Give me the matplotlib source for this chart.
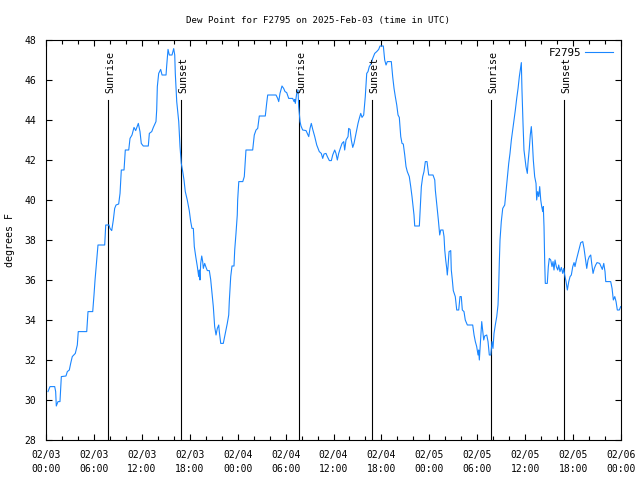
"""
Dew point for station F2795, 2025-Feb-03 .. 2025-Feb-06 (UTC), gnuplot-like look.
"""
import matplotlib
matplotlib.use("Agg")
import matplotlib.pyplot as plt
from matplotlib.ticker import MultipleLocator

# ── Data ──────────────────────────────────────────────────────────────────────
# hours since 2025-02-03 00:00 UTC
HOURS = [
    0.25, 0.50, 1.09, 1.21, 1.29, 1.50, 1.75, 1.92, 2.50, 2.67, 2.92, 3.09, 3.29,
    3.67, 3.92, 4.04, 5.10, 5.26, 5.85, 6.01, 6.14, 6.35, 6.51, 7.35, 7.48, 7.89,
    8.01, 8.23, 8.43, 8.60, 8.77, 9.10, 9.27, 9.43, 9.77, 9.93, 10.36, 10.52,
    10.77, 11.02, 11.23, 11.56, 11.77, 11.93, 12.18, 12.81, 12.94, 13.24, 13.44,
    13.77, 13.86, 13.94, 14.11, 14.36, 14.53, 15.03, 15.11, 15.28, 15.44, 15.78,
    15.99, 16.12, 16.19, 16.37, 16.62, 16.78, 16.94, 17.12, 17.28, 17.44, 17.69,
    17.94, 18.12, 18.28, 18.45, 18.57, 18.75, 18.95, 19.12, 19.20, 19.28, 19.37,
    19.50, 19.62, 19.70, 19.87, 20.04, 20.20, 20.45, 20.62, 20.79, 20.95, 21.12,
    21.29, 21.45, 21.63, 21.70, 21.88, 22.20, 22.45, 22.70, 22.88, 22.95, 23.13,
    23.29, 23.54, 23.63, 23.79, 23.95, 24.00, 24.14, 24.64, 24.83, 25.04, 25.88,
    26.08, 26.30, 26.51, 26.71, 27.46, 27.63, 27.76, 28.80, 29.01, 29.14, 29.30,
    29.55, 29.76, 29.93, 30.14, 30.39, 30.89, 31.06, 31.14, 31.22, 31.39, 31.56,
    31.64, 31.81, 31.93, 32.14, 32.56, 32.72, 32.90, 33.06, 33.22, 33.40, 33.65,
    33.90, 34.22, 34.47, 34.65, 34.81, 35.06, 35.23, 35.48, 35.73, 35.90, 36.15,
    36.31, 36.48, 36.65, 36.85, 37.07, 37.28, 37.40, 37.57, 37.82, 37.90, 38.07,
    38.23, 38.41, 38.57, 38.82, 39.07, 39.23, 39.41, 39.57, 39.78, 39.98, 40.16,
    40.32, 40.48, 40.73, 40.91, 41.16, 41.41, 41.66, 41.82, 42.24, 42.41, 42.58,
    42.74, 43.24, 43.41, 43.58, 43.74, 43.92, 44.08, 44.24, 44.42, 44.58, 44.74,
    44.92, 45.08, 45.24, 45.49, 45.67, 45.83, 45.96, 46.08, 46.17, 46.75, 46.87,
    47.00, 47.17, 47.33, 47.50, 47.71, 47.92, 48.46, 48.68, 48.75, 48.88, 49.00,
    49.13, 49.30, 49.43, 49.71, 49.84, 49.93, 50.05, 50.18, 50.25, 50.34, 50.47,
    50.68, 50.75, 50.88, 51.00, 51.25, 51.43, 51.68, 51.84, 52.00, 52.13, 52.34,
    52.50, 52.76, 53.43, 53.60, 53.76, 53.93, 54.10, 54.18, 54.26, 54.43, 54.56,
    54.68, 54.81, 54.93, 55.19, 55.35, 55.51, 55.69, 55.85, 55.97, 56.10, 56.26,
    56.44, 56.60, 56.69, 56.76, 56.85, 57.01, 57.19, 57.44, 57.60, 57.77, 57.94,
    58.10, 58.27, 58.44, 58.60, 58.77, 58.94, 59.11, 59.27, 59.44, 59.52, 59.60,
    59.73, 59.85, 59.98, 60.10, 60.27, 60.35, 60.52, 60.64, 60.77, 60.89, 61.02,
    61.19, 61.36, 61.44, 61.57, 61.70, 61.82, 61.95, 62.07, 62.20, 62.27, 62.36,
    62.45, 62.52, 62.77, 62.90, 63.02, 63.20, 63.36, 63.49, 63.61, 63.74, 63.90,
    64.08, 64.20, 64.36, 64.53, 64.70, 64.83, 64.95, 65.12, 65.28, 65.46, 65.62,
    65.78, 65.96, 66.12, 66.24, 66.41, 66.62, 66.78, 66.96, 67.21, 67.37, 67.54,
    67.71, 67.87, 68.03, 68.21, 68.33, 68.50, 68.66, 68.83, 69.00, 69.33, 69.50,
    69.66, 69.84, 70.00, 70.09, 70.71, 70.88, 71.04, 71.22, 71.38, 71.54, 71.79,
    71.96,
]
DEW_POINT_F = [
    30.42, 30.67, 30.67, 30.42, 29.70, 29.92, 29.92, 31.17, 31.20, 31.42, 31.50,
    31.83, 32.17, 32.33, 32.75, 33.42, 33.42, 34.42, 34.42, 35.25, 36.00, 37.00,
    37.75, 37.75, 38.75, 38.75, 38.58, 38.47, 39.00, 39.58, 39.75, 39.80, 40.33,
    41.50, 41.50, 42.50, 42.50, 43.08, 43.25, 43.63, 43.47, 43.83, 43.42, 42.83,
    42.70, 42.70, 43.33, 43.42, 43.63, 43.92, 44.50, 45.67, 46.33, 46.53, 46.25,
    46.25, 46.70, 47.53, 47.25, 47.25, 47.57, 47.25, 46.33, 44.92, 43.92, 42.67,
    41.83, 41.42, 41.00, 40.42, 40.00, 39.47, 38.92, 38.58, 38.58, 37.67, 37.17,
    36.67, 36.17, 36.50, 36.00, 36.83, 37.20, 36.92, 36.58, 36.83, 36.63, 36.47,
    36.47, 36.03, 35.33, 34.67, 33.67, 33.25, 33.58, 33.75, 33.42, 32.83, 32.83,
    33.33, 33.83, 34.25, 34.92, 36.17, 36.70, 36.70, 37.50, 38.33, 39.25, 40.00,
    40.92, 40.92, 41.17, 42.50, 42.50, 43.25, 43.50, 43.58, 44.20, 44.20, 44.83,
    45.25, 45.25, 45.08, 44.92, 45.33, 45.70, 45.58, 45.42, 45.37, 45.08, 45.08,
    44.92, 45.03, 44.83, 45.33, 45.50, 44.67, 43.92, 43.70, 43.50, 43.47, 43.33,
    43.17, 43.58, 43.83, 43.53, 43.17, 42.75, 42.42, 42.33, 42.08, 42.30, 42.33,
    42.17, 41.97, 41.97, 42.25, 42.50, 42.33, 42.00, 42.33, 42.58, 42.83, 42.92,
    42.50, 43.00, 43.17, 43.58, 43.53, 43.00, 42.63, 42.83, 43.33, 43.83, 44.08,
    44.33, 44.13, 44.25, 45.17, 46.33, 46.42, 46.67, 46.83, 47.08, 47.33, 47.42,
    47.53, 47.70, 47.70, 47.00, 46.75, 46.92, 46.92, 46.17, 45.58, 45.17, 44.75,
    44.25, 44.13, 43.17, 42.83, 42.80, 42.25, 41.67, 41.42, 41.17, 40.67, 40.17,
    39.67, 39.25, 38.70, 38.70, 39.67, 40.67, 41.17, 41.42, 41.92, 41.92, 41.25,
    41.25, 41.00, 40.50, 40.00, 39.50, 39.00, 38.25, 38.50, 38.50, 38.17, 37.50,
    37.00, 36.58, 36.25, 36.67, 37.42, 37.47, 36.50, 36.00, 35.47, 35.17, 34.50,
    34.50, 35.17, 35.17, 34.50, 34.42, 34.00, 33.75, 33.75, 33.25, 32.92, 32.67,
    32.25, 32.50, 32.00, 33.08, 33.92, 33.50, 33.00, 33.20, 33.25, 32.92, 32.25,
    32.25, 32.92, 32.58, 33.33, 33.75, 34.17, 34.75, 35.75, 36.83, 38.00, 38.92,
    39.58, 39.75, 40.42, 41.17, 41.83, 42.33, 43.00, 43.50, 44.00, 44.50, 45.08,
    45.58, 46.17, 46.67, 46.87, 45.50, 43.83, 42.50, 42.08, 41.67, 41.33, 41.83,
    42.58, 43.25, 43.67, 43.00, 42.00, 41.17, 40.83, 40.00, 40.42, 40.17, 40.67,
    40.00, 39.67, 39.42, 39.67, 38.67, 36.83, 35.83, 35.83, 36.67, 37.08, 37.00,
    36.67, 36.92, 36.50, 37.00, 36.67, 36.50, 36.75, 36.42, 36.63, 36.33, 36.58,
    36.25, 35.92, 35.50, 35.92, 36.17, 36.25, 36.67, 36.87, 36.67, 37.00, 37.33,
    37.58, 37.87, 37.92, 37.58, 37.08, 36.58, 37.00, 37.17, 37.25, 36.83, 36.33,
    36.58, 36.75, 36.87, 36.83, 36.67, 36.53, 36.83, 36.42, 35.92, 35.92, 35.58,
    35.00, 35.17, 34.92, 34.50, 34.50, 34.67,
]

# sunrise / sunset markers (hours since start)
SUN_EVENTS = [7.78, 16.93, 31.74, 40.87, 55.73, 64.92]
SUN_LABELS = ["Sunrise", "Sunset", "Sunrise", "Sunset", "Sunrise", "Sunset"]
SUN_LINE_TOP = 45.0

# x tick labels every 6 hours
XTICK_HOURS = [0, 6, 12, 18, 24, 30, 36, 42, 48, 54, 60, 66, 72]
XTICK_LABELS = [
    "02/03\n00:00", "02/03\n06:00", "02/03\n12:00", "02/03\n18:00",
    "02/04\n00:00", "02/04\n06:00", "02/04\n12:00", "02/04\n18:00",
    "02/05\n00:00", "02/05\n06:00", "02/05\n12:00", "02/05\n18:00",
    "02/06\n00:00",
]

TITLE = "Dew Point for F2795 on 2025-Feb-03 (time in UTC)"
YLABEL = "degrees F"
SERIES_NAME = "F2795"

# ── Style ─────────────────────────────────────────────────────────────────────
LINE_COLOR = "#1a86ff"
FONT_SIZE = 6.6
plt.rcParams["font.family"] = ["DejaVu Sans Mono", "DejaVu Sans"]
plt.rcParams["font.size"] = FONT_SIZE

fig = plt.figure(figsize=(6.4, 4.8), dpi=100, facecolor="white")
ax = fig.add_axes([46 / 640, 40 / 480, 575 / 640, 400 / 480])

ax.plot(HOURS, DEW_POINT_F, color=LINE_COLOR, linewidth=0.8, label=SERIES_NAME)

# sunrise / sunset verticals with rotated labels
for t, lab in zip(SUN_EVENTS, SUN_LABELS):
    ax.plot([t, t], [28, SUN_LINE_TOP], color="black", linewidth=0.8, zorder=1)
    ax.text(t + 0.25, SUN_LINE_TOP + 0.35, lab, rotation=90, ha="center",
            va="bottom", fontsize=FONT_SIZE + 0.6, color="black")

ax.set_xlim(0, 72)
ax.set_ylim(28, 48)
ax.set_xticks(XTICK_HOURS)
ax.set_xticklabels(XTICK_LABELS, linespacing=1.5)
ax.xaxis.set_minor_locator(MultipleLocator(2))
ax.yaxis.set_major_locator(MultipleLocator(2))

ax.tick_params(which="both", direction="in", top=True, right=True,
               color="black", width=0.8)
ax.tick_params(which="major", length=4.5)
ax.tick_params(which="minor", length=3.0)
ax.tick_params(axis="x", which="major", pad=7, labelsize=FONT_SIZE + 0.4)
ax.tick_params(axis="y", which="major", pad=7, labelsize=FONT_SIZE + 0.4)

for sp in ax.spines.values():
    sp.set_linewidth(0.8)
    sp.set_color("black")

fig.text(0.497, 1 - 20 / 480, TITLE, ha="center", va="center",
         fontsize=FONT_SIZE)
fig.text(10 / 640, 0.5, YLABEL, rotation=90, ha="center", va="center",
         fontsize=FONT_SIZE + 0.6)

ax.legend(loc="upper right", frameon=False, markerfirst=False,
          handlelength=2.6, handletextpad=0.4, borderaxespad=0.3,
          fontsize=FONT_SIZE + 1.2)

fig.savefig("out.png", dpi=100, facecolor="white")
